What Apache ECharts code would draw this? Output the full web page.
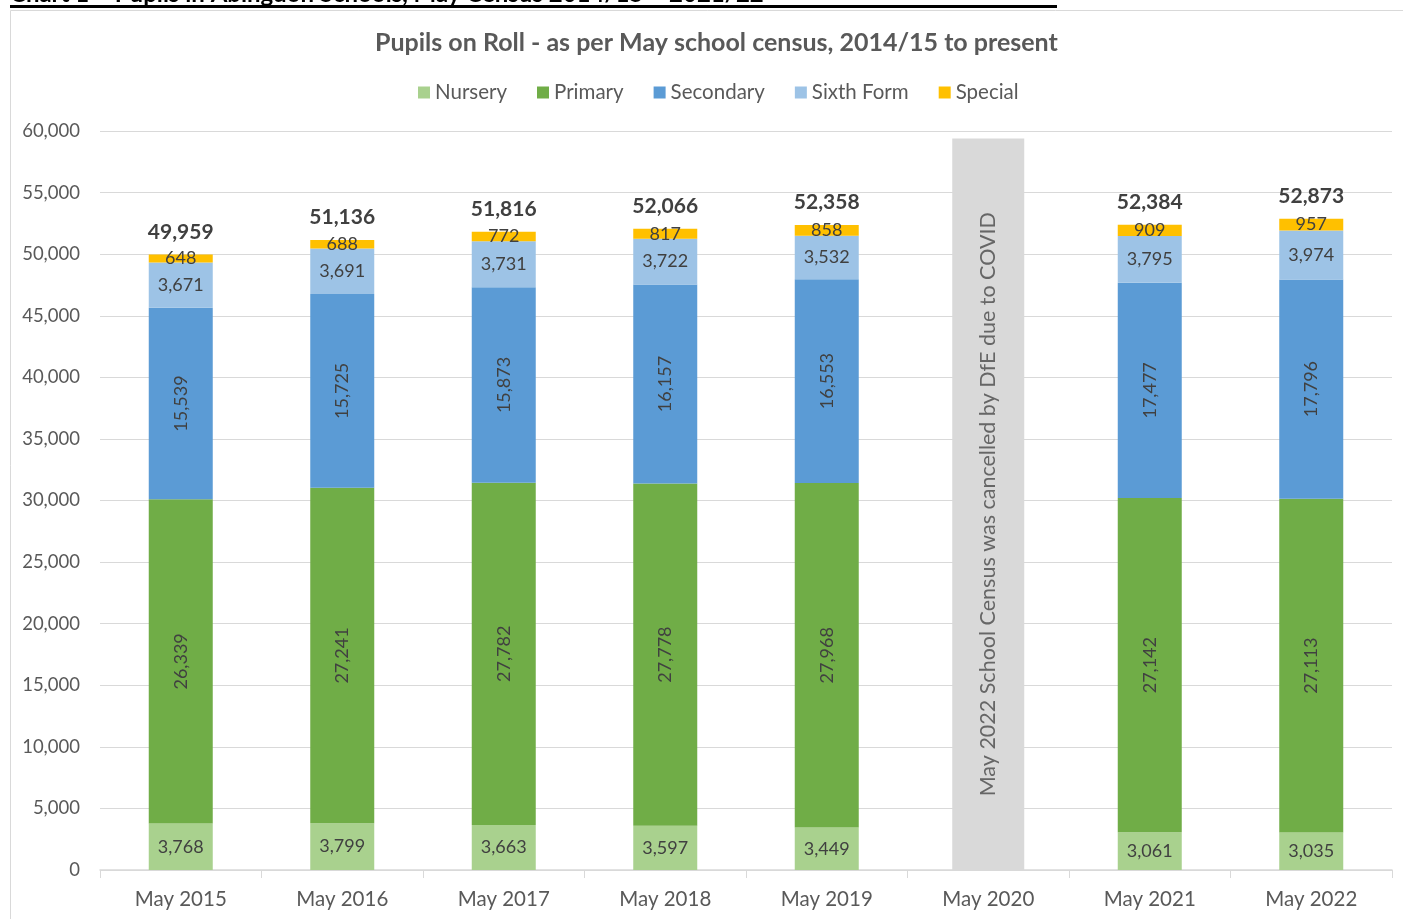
<!DOCTYPE html>
<html>
<head>
<meta charset="utf-8">
<script src="https://cdn.jsdelivr.net/npm/echarts@6/dist/echarts.min.js"></script>
<style>html,body{margin:0;padding:0;background:#fff}#c{width:1403px;height:919px}</style>
</head>
<body>
<div id="c"></div>
<script>
const categories = ['May 2015','May 2016','May 2017','May 2018','May 2019','May 2020','May 2021','May 2022'];
const nursery   = [3768, 3799, 3663, 3597, 3449, null, 3061, 3035];
const primary   = [26339, 27241, 27782, 27778, 27968, null, 27142, 27113];
const secondary = [15539, 15725, 15873, 16157, 16553, null, 17477, 17796];
const sixthForm = [3671, 3691, 3731, 3722, 3532, null, 3795, 3974];
const special   = [648, 688, 772, 817, 858, null, 909, 957];
const totals    = [49959, 51136, 51816, 52066, 52358, null, 52384, 52873];
const covidBar  = [null, null, null, null, null, 59400, null, null];
const covidNote = 'May 2022 School Census was cancelled by DfE due to COVID';
const yTicks = {min: 0, max: 60000, interval: 5000};

const FONT = 'Lato';
const fmt = v => v == null ? '' : Number(v).toLocaleString('en-US');
const chart = echarts.init(document.getElementById('c'));

function seg(name, data, color, rotate) {
  return {
    name, type: 'bar', stack: 'all', data, barWidth: 64,
    itemStyle: {color},
    label: {
      show: true, position: 'inside', rotate: rotate || 0,
      color: '#404040', fontFamily: FONT, fontSize: 18,
      formatter: p => fmt(p.value)
    }
  };
}

const series = [
  seg('Nursery', nursery, '#A9D18E'),
  seg('Primary', primary, '#70AD47', 90),
  seg('Secondary', secondary, '#5B9BD5', 90),
  seg('Sixth Form', sixthForm, '#9DC3E6'),
  seg('Special', special, '#FFC000'),
  {
    name: 'Total', type: 'bar', stack: 'all', barWidth: 64,
    data: totals.map(t => t == null ? null : 0),
    itemStyle: {color: 'transparent'},
    label: {
      show: true, position: 'top', distance: 12,
      color: '#404040', fontFamily: FONT, fontSize: 21, fontWeight: 'bold',
      formatter: p => fmt(totals[p.dataIndex])
    }
  },
  {
    name: 'Cancelled', type: 'bar', xAxisIndex: 1, barWidth: 72,
    data: covidBar,
    itemStyle: {color: '#D9D9D9'},
    label: {
      show: true, position: 'inside', rotate: 90,
      color: '#666666', fontFamily: FONT, fontSize: 21.5,
      formatter: () => covidNote
    }
  }
];

chart.setOption({
  animation: false,
  backgroundColor: '#fff',
  textStyle: {fontFamily: FONT},
  graphic: [
    {type: 'rect', shape: {x: 10.5, y: 10.5, width: 1410, height: 930}, style: {fill: 'none', stroke: '#D9D9D9', lineWidth: 1}, silent: true, z: -10},
    {type: 'text', left: 10, top: -18, style: {text: 'Chart 1 – Pupils in Abingdon Schools, May Census 2014/15 – 2021/22', fill: '#000', font: 'bold 24px ' + FONT}},
    {type: 'rect', shape: {x: 10, y: 5, width: 1047, height: 3}, style: {fill: '#000'}}
  ],
  title: {
    text: 'Pupils on Roll - as per May school census, 2014/15 to present',
    left: 370, top: 25,
    textStyle: {color: '#595959', fontFamily: FONT, fontSize: 25, fontWeight: 'bold'}
  },
  legend: {
    data: ['Nursery','Primary','Secondary','Sixth Form','Special'],
    top: 77, left: 413, itemWidth: 12, itemHeight: 12, itemGap: 30,
    icon: 'rect',
    textStyle: {color: '#595959', fontFamily: FONT, fontSize: 20.5}
  },
  grid: {left: 100, right: 11, top: 131, bottom: 49},
  xAxis: [{
    type: 'category', data: categories,
    axisLine: {lineStyle: {color: '#D9D9D9', width: 1.5}},
    axisTick: {show: true, length: 8, lineStyle: {color: '#D9D9D9'}},
    axisLabel: {color: '#595959', fontFamily: FONT, fontSize: 20.5, margin: 19}
  }, {
    type: 'category', data: categories, show: false
  }],
  yAxis: {
    type: 'value', min: yTicks.min, max: yTicks.max, interval: yTicks.interval,
    axisLine: {show: false}, axisTick: {show: false},
    splitLine: {lineStyle: {color: '#D9D9D9', width: 1}},
    axisLabel: {color: '#595959', fontFamily: FONT, fontSize: 18.5, margin: 20, formatter: v => fmt(v)}
  },
  series
});
</script>
</body>
</html>
